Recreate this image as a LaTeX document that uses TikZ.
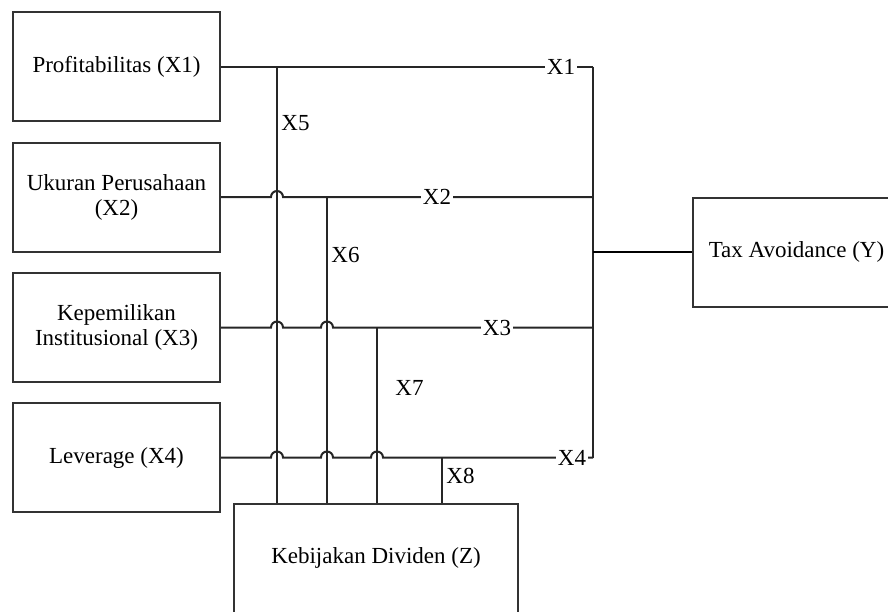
\documentclass[tikz,border=0pt]{standalone}
\usepackage{fontspec}
\setmainfont{Liberation Serif}
\usetikzlibrary{calc}

\begin{document}
\begin{tikzpicture}[x=0.5pt,y=-0.5pt,
    variabel/.style ={rectangle, draw=black!80, line width=1pt, minimum width=103.5pt,
      minimum height=54.5pt, align=center, font=\fontsize{11.5}{12.5}\selectfont},
    jalur/.style ={draw=black!85, line width=1pt},
    labeljalur/.style ={fill=white, inner sep=1pt, font=\fontsize{11.5}{12.5}\selectfont},
    labeltegak/.style ={anchor=west, inner sep=1pt, font=\fontsize{11.5}{12.5}\selectfont}]
   \useasboundingbox (0,0) rectangle (888,611);
   % variabel
   \node[variabel] (X1) at (116.5,66.5) {Profitabilitas (X1)};
   \node[variabel] (X2) at (116.5,197) {Ukuran Perusahaan\\(X2)};
   \node[variabel] (X3) at (116.5,327.5) {Kepemilikan\\Institusional (X3)};
   \node[variabel] (X4) at (116.5,457.5) {Leverage (X4)};
   \node[variabel] (Y) at (796.5,252) {Tax Avoidance (Y)};
   \node[variabel, minimum width=142pt] (Z) at (376,558) {Kebijakan Dividen (Z)};
   % titik cabang
   \coordinate (t5) at (277,66.5);
   \coordinate (t6) at (327,197);
   \coordinate (t7) at (377,327.5);
   \coordinate (t8) at (442,457.5);
   \coordinate (b1) at (593,66.5);
   \coordinate (b2) at (593,197);
   \coordinate (b3) at (593,327.5);
   \coordinate (b4) at (593,457.5);
   % jalur langsung
   \draw[jalur] (X1.east) -- (t5) -- (b1);
   \draw[jalur] (X2.east) -- ($(t5 |- X2.east)+(-6,0)$) arc[start angle=180, end angle=0, radius=3pt]
     -- (t6) -- (b2);
   \draw[jalur] (X3.east) -- ($(t5 |- X3.east)+(-6,0)$) arc[start angle=180, end angle=0, radius=3pt]
     -- ($(t6 |- X3.east)+(-6,0)$) arc[start angle=180, end angle=0, radius=3pt]
     -- (t7) -- (b3);
   \draw[jalur] (X4.east) -- ($(t5 |- X4.east)+(-6,0)$) arc[start angle=180, end angle=0, radius=3pt]
     -- ($(t6 |- X4.east)+(-6,0)$) arc[start angle=180, end angle=0, radius=3pt]
     -- ($(t7 |- X4.east)+(-6,0)$) arc[start angle=180, end angle=0, radius=3pt]
     -- (t8) -- (b4);
   \draw[jalur] (b1) -- (b4);
   \draw[jalur, line width=1.4pt, draw=black] (Y.west -| b1) -- (Y.west);
   % jalur ke Z
   \draw[jalur] (t5) -- (t5 |- Z.north);
   \draw[jalur] (t6) -- (t6 |- Z.north);
   \draw[jalur] (t7) -- (t7 |- Z.north);
   \draw[jalur] (t8) -- (t8 |- Z.north);
   % label
   \node[labeljalur] (l1) at (561,66.5) {X1};
   \node[labeljalur] (l2) at (437,197) {X2};
   \node[labeljalur] (l3) at (497,327.5) {X3};
   \node[labeljalur] (l4) at (572,457.5) {X4};
   \node[labeltegak] (l5) at (279,123) {X5};
   \node[labeltegak] (l6) at (329,255) {X6};
   \node[labeltegak] (l7) at (393,388) {X7};
   \node[labeltegak] (l8) at (444,476) {X8};
 \end{tikzpicture}
\end{document}
